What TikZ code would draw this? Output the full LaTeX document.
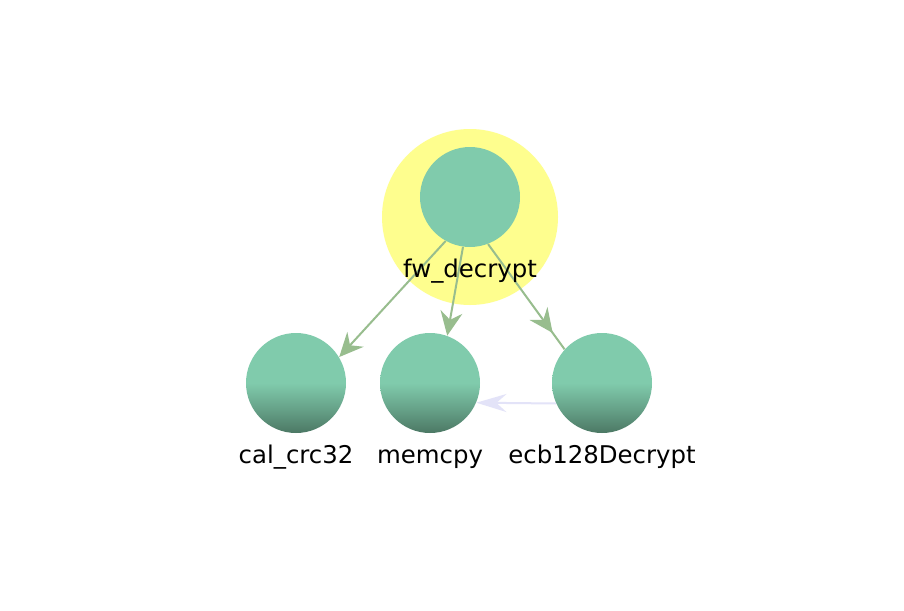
\documentclass[tikz,border=0pt]{standalone}
\usepackage{fontspec}
\setmainfont{DejaVu Sans}
\usetikzlibrary{arrows.meta,decorations.markings}
\definecolor{nodeg}{HTML}{80CBAC}
\definecolor{nodedk}{HTML}{4C7864}
\definecolor{halo}{HTML}{FEFE8E}
\definecolor{edgeg}{HTML}{98BD8E}
\definecolor{edgel}{HTML}{E3E3F8}
\pgfdeclareverticalshading{ballshade}{100bp}{color(0bp)=(nodedk); color(25bp)=(nodedk); color(37bp)=(nodedk!50!nodeg); color(50bp)=(nodeg); color(100bp)=(nodeg)}
\begin{document}
\begin{tikzpicture}[x=0.5pt,y=-0.5pt,
  halonode/.style={circle, fill=halo, draw=none, minimum size=88pt, inner sep=0pt},
  topball/.style={circle, fill=nodeg, draw=none, minimum size=50pt, inner sep=0pt},
  ball/.style={circle, shade, shading=ballshade, draw=none, minimum size=50pt, inner sep=0pt},
  lbl/.style={anchor=base, inner sep=0pt, font=\fontsize{12.2}{14}\selectfont},
  gtip/.style={Stealth[length=12pt,width=11pt,inset=4pt]},
  gedge/.style={draw=edgeg, line width=1pt},
  ledge/.style={draw=edgel, line width=1pt, -{Stealth[length=15pt,width=9pt,inset=5pt]}}]
\fill[white] (0,0) rectangle (904,610);
\useasboundingbox (0,0) rectangle (904,610);
\node[halonode] (halo) at (470,217) {};
\node[topball] (fw) at (470,197) {};
\node[ball] (cal) at (296,383) {};
\node[ball] (mem) at (430,383) {};
\node[ball] (ecb) at (602,383) {};
\draw[gedge, -{Stealth[length=12pt,width=11pt,inset=4pt]}] (fw.241.5) -- (cal.31.8);
\draw[gedge, -{Stealth[length=12pt,width=11pt,inset=4pt]}] (fw.262) -- (mem.70.5);
\draw[gedge, postaction={decorate}, decoration={markings, mark=at position 0.845 with {\arrow[edgeg]{Stealth[length=12pt,width=11pt,inset=4pt]}}}] (fw.291) -- (ecb.138);
\draw[ledge] (ecb.204) -- (mem.337);
\node[lbl] (fwl) at (470,277) {fw\_decrypt};
\node[lbl] (call) at (296,463) {cal\_crc32};
\node[lbl] (meml) at (430,463) {memcpy};
\node[lbl] (ecbl) at (602,463) {ecb128Decrypt};
\end{tikzpicture}
\end{document}
